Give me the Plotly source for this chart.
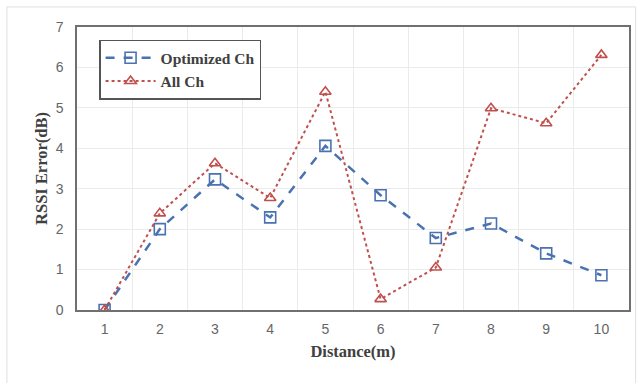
import plotly.graph_objects as go

# Distance points (m) and RSSI error (dB) for each channel strategy
distance = [1, 2, 3, 4, 5, 6, 7, 8, 9, 10]
optimized_ch = [0.0, 2.0, 3.23, 2.29, 4.06, 2.84, 1.78, 2.14, 1.40, 0.86]
all_ch = [0.0, 2.39, 3.63, 2.77, 5.40, 0.27, 1.05, 4.99, 4.62, 6.31]

blue = "#4a72b0"
red = "#c0504d"
serif = "Liberation Serif, Times New Roman, serif"
sans = "Liberation Sans, Arial, sans-serif"

fig = go.Figure()
fig.add_trace(go.Scatter(
    x=distance, y=optimized_ch, name="<b>Optimized Ch</b>", mode="lines+markers",
    line=dict(color=blue, width=2.5, dash="dash"),
    marker=dict(symbol="square-open", size=11, color=blue, line=dict(width=1.6)),
))
fig.add_trace(go.Scatter(
    x=distance, y=all_ch, name="<b>All Ch</b>", mode="lines+markers",
    line=dict(color=red, width=2, dash="dot"),
    marker=dict(symbol="triangle-up-open", size=10, color=red, line=dict(width=1.6)),
))

# Outer chart frame
fig.add_shape(type="rect", xref="paper", yref="paper",
              x0=-0.127, x1=1.012, y0=-0.27, y1=1.071,
              line=dict(color="#e0e0e0", width=1), layer="below")

fig.update_layout(
    width=643, height=383,
    margin=dict(l=77, r=14, t=27, b=73),
    paper_bgcolor="white", plot_bgcolor="white",
    showlegend=True,
    legend=dict(
        x=0.04, y=0.955, xanchor="left", yanchor="top",
        bgcolor="white", bordercolor="#555555", borderwidth=1.5,
        font=dict(family=serif, size=15.5, color="#404040"),
        itemwidth=50, tracegroupgap=0,
    ),
    xaxis=dict(
        range=[0.5, 10.5], tickmode="array", tickvals=distance,
        ticktext=[str(d) for d in distance],
        showgrid=False, zeroline=False,
        showline=True, linecolor="#707070", linewidth=1.5, mirror=True,
        ticks="", ticklabelstandoff=5,
        tickfont=dict(family=sans, size=14, color="#666666"),
        title=dict(text="<b>Distance(m)</b>", font=dict(family=serif, size=16.5, color="#404040"), standoff=10),
        minor=dict(tickvals=[i + 0.5 for i in range(1, 10)], showgrid=True,
                   gridcolor="#ebebeb", gridwidth=1),
    ),
    yaxis=dict(
        range=[0, 7], dtick=1, showgrid=True, gridcolor="#ebebeb", gridwidth=1,
        zeroline=False, showline=True, linecolor="#707070", linewidth=1.5, mirror=True,
        ticks="", ticklabelstandoff=9,
        tickfont=dict(family=sans, size=14, color="#666666"),
        title=dict(text="<b>RSSI Error(dB)</b>", font=dict(family=serif, size=16.5, color="#404040"), standoff=4),
    ),
)

fig.write_html("out.html")
